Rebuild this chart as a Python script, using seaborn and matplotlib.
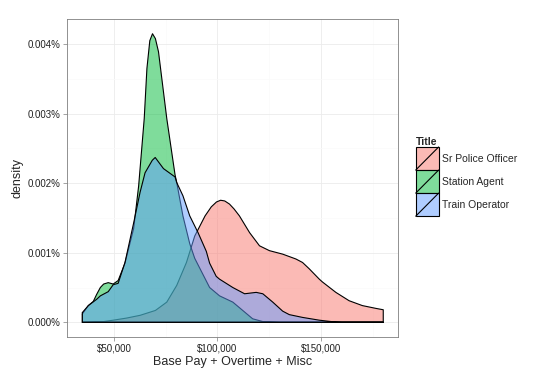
"""
plot.py -- overlapping pay densities by job title (ggplot-style look).
"""
import matplotlib

matplotlib.use("Agg")  # only saving, no display
import matplotlib.pyplot as plt
from matplotlib.legend_handler import HandlerBase
from matplotlib.lines import Line2D
from matplotlib.patches import Patch, Rectangle
from matplotlib.ticker import FuncFormatter, MultipleLocator
import pandas as pd
import seaborn as sns

TITLES = ["Sr Police Officer", "Station Agent", "Train Operator"]
COLORS = ["#F8766D", "#00BA38", "#619CFF"]

# density curves -- density in units of 1e-5
police_pay = [34700, 45000, 49600, 56000, 62600, 70000, 75500, 80300, 85000, 89000,
              94000, 97000, 99500, 101500, 103500, 105800, 108000, 110600, 115500,
              120300, 125100, 131500, 137900, 141100, 144300, 149200, 150700, 157200,
              163600, 170000, 176500, 180100]
police_dens = [0.0, 0.01, 0.03, 0.06, 0.10, 0.17, 0.29, 0.53, 0.86, 1.24,
               1.53, 1.66, 1.73, 1.755, 1.745, 1.70, 1.63, 1.53, 1.29,
               1.10, 1.03, 0.98, 0.91, 0.86, 0.77, 0.62, 0.58, 0.43,
               0.31, 0.24, 0.20, 0.18]

agent_pay = [34700, 37600, 40000, 41600, 43400, 45000, 47200, 49600, 52000, 55300,
             59500, 61900, 64600, 65900, 67300, 68600, 70000, 71500, 75500, 79500,
             80300, 83300, 86600, 89000, 91400, 96200, 101000, 107400, 112200,
             117000, 121900, 130000, 180100]
agent_dens = [0.12, 0.24, 0.30, 0.40, 0.50, 0.55, 0.57, 0.55, 0.60, 0.85,
              1.35, 1.96, 2.93, 3.65, 4.05, 4.15, 4.08, 3.89, 2.93, 2.12,
              2.01, 1.53, 1.13, 0.92, 0.78, 0.50, 0.38, 0.29, 0.17,
              0.05, 0.01, 0.0, 0.0]

operator_pay = [34700, 37600, 41600, 43400, 47200, 49600, 52000, 55300, 59500, 62600,
                65000, 68500, 69900, 73900, 79500, 80300, 83300, 86600, 90600, 94600,
                96200, 99400, 101000, 107400, 113100, 118700, 121900, 126700, 131500,
                134700, 141100, 149200, 155000, 160000, 180100]
operator_dens = [0.14, 0.24, 0.33, 0.38, 0.44, 0.54, 0.56, 0.86, 1.43, 1.87,
                 2.15, 2.33, 2.37, 2.21, 2.09, 2.01, 1.82, 1.53, 1.29, 1.02,
                 0.85, 0.66, 0.62, 0.50, 0.41, 0.43, 0.41, 0.29, 0.16,
                 0.11, 0.07, 0.03, 0.01, 0.0, 0.0]

SERIES = [(police_pay, police_dens), (agent_pay, agent_dens), (operator_pay, operator_dens)]


class DiagonalKey(HandlerBase):
    """ggplot's density legend key: filled square with a diagonal stroke."""

    def create_artists(self, legend, orig_handle, xdescent, ydescent, width, height, fontsize, trans):
        x0, y0 = -xdescent, -ydescent
        box = Rectangle((x0, y0), width, height, facecolor=orig_handle.get_facecolor(),
                        edgecolor="black", lw=0.8, transform=trans)
        diag = Line2D([x0, x0 + width], [y0, y0 + height], color="black", lw=0.8, transform=trans)
        return [box, diag]


def main() -> None:
    sns.set_theme(style="white")
    plt.rcParams["font.family"] = ["Liberation Sans", "DejaVu Sans"]

    frames = []
    for title, (pay, dens) in zip(TITLES, SERIES):
        frames.append(pd.DataFrame({"Title": title, "pay": pay, "density": [d * 1e-5 for d in dens]}))
    df = pd.concat(frames, ignore_index=True)

    fig = plt.figure(figsize=(5.47, 3.80), dpi=100)
    ax = fig.add_axes([67.3 / 547, 43.3 / 380, 331 / 547, 317.4 / 380])

    for i, (title, color) in enumerate(zip(TITLES, COLORS)):
        sub = df[df["Title"] == title]
        xs = list(sub["pay"])
        ys = list(sub["density"])
        # close the polygon down to the baseline like geom_density does
        px = xs + [xs[-1], xs[0], xs[0]]
        py = ys + [0.0, 0.0, ys[0]]
        ax.fill(px, py, facecolor=color, alpha=0.5, edgecolor="none", zorder=2 + 2 * i)
        sns.lineplot(x=px, y=py, sort=False, estimator=None, color="black", lw=0.8,
                     ax=ax, zorder=3 + 2 * i)

    xmin, xmax = df["pay"].min(), df["pay"].max()
    ymax = df["density"].max()
    ax.set_xlim(xmin - 0.05 * (xmax - xmin), xmax + 0.05 * (xmax - xmin))
    ax.set_ylim(-0.05 * ymax, ymax * 1.05)

    ax.xaxis.set_major_locator(MultipleLocator(50000))
    ax.xaxis.set_minor_locator(MultipleLocator(25000))
    ax.yaxis.set_major_locator(MultipleLocator(1e-5))
    ax.yaxis.set_minor_locator(MultipleLocator(0.5e-5))
    ax.xaxis.set_major_formatter(FuncFormatter(lambda v, _: f"${v:,.0f}"))
    ax.yaxis.set_major_formatter(FuncFormatter(lambda v, _: f"{v * 100:.3f}%"))

    ax.grid(which="major", color="#ebebeb", lw=0.6, zorder=0)
    ax.grid(which="minor", color="#fafafa", lw=0.5, zorder=0)
    ax.set_axisbelow(True)
    for side in ax.spines.values():
        side.set_color("#7f7f7f")
        side.set_linewidth(0.6)
    ax.tick_params(which="major", length=3, width=0.5, color="#7f7f7f", labelsize=7,
                   labelcolor="#222222", pad=2, bottom=True, left=True)
    ax.tick_params(which="minor", length=0)

    ax.set_xlabel("Base Pay + Overtime + Misc", fontsize=9, labelpad=2)
    ax.set_ylabel("density", fontsize=9, labelpad=3)

    handles = [Patch(facecolor=c, alpha=0.5) for c in COLORS]
    leg = fig.legend(handles, TITLES, handler_map={Patch: DiagonalKey()},
                     loc="upper left", bbox_to_anchor=(415.7 / 547, 1 - 137 / 380),
                     frameon=False, title="Title", borderpad=0, borderaxespad=0,
                     handlelength=2.2, handleheight=3.03, labelspacing=0, handletextpad=0.3,
                     fontsize=7.5, title_fontproperties={"weight": "bold", "size": 7.5})
    leg._legend_box.align = "left"

    fig.savefig("out.png", dpi=100)
    plt.close(fig)


if __name__ == "__main__":
    main()
